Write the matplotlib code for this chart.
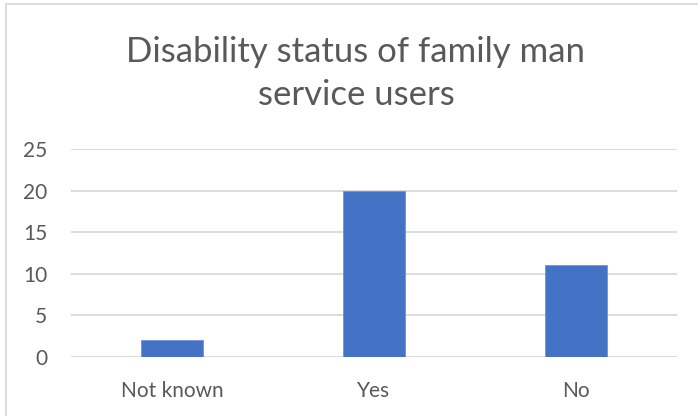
import matplotlib
matplotlib.use("Agg")
import matplotlib.pyplot as plt
from matplotlib.patches import Rectangle

# Disability status counts
categories = ["Not known", "Yes", "No"]
counts = [2, 20, 11]
y_ticks = [0, 5, 10, 15, 20, 25]

title_lines = ["Disability status of family man", "service users"]

bar_color = "#4472C4"
grid_color = "#D9D9D9"
text_color = "#595959"

W, H = 698, 416
fig = plt.figure(figsize=(W / 100, H / 100), dpi=100)
plt.rcParams['font.family'] = ['Lato', 'DejaVu Sans']

# chart frame (runs off the right and bottom edges)
fig.patches.append(Rectangle((6 / W, -0.1), 1.2, (H - 4) / H + 0.1,
                             transform=fig.transFigure, fill=False,
                             edgecolor=grid_color, linewidth=1.3))

ax = fig.add_axes([71 / W, (H - 357) / H, 606 / W, 208 / H])
ax.bar(range(len(categories)), counts, width=0.31, color=bar_color,
       edgecolor="#6E93D6", linewidth=0.6, zorder=3)

ax.set_xlim(-0.5, len(categories) - 0.5)
ax.set_ylim(0, 25)
ax.set_yticks(y_ticks)
ax.set_xticks(range(len(categories)))
ax.set_xticklabels(categories)
ax.grid(axis="y", color=grid_color, linewidth=1.3, zorder=0)
ax.set_axisbelow(True)
for s in ax.spines.values():
    s.set_visible(False)
ax.tick_params(axis="both", length=0, labelsize=15, labelcolor=text_color)
ax.tick_params(axis="y", pad=17)
ax.tick_params(axis="x", pad=17)

# two-line title, one baseline per line
for line, base in zip(title_lines, [62, 105]):
    fig.text(356 / W, 1 - base / H, line, ha="center", va="baseline",
             fontsize=25, color=text_color)

fig.savefig("out.png", dpi=100, facecolor="white")
